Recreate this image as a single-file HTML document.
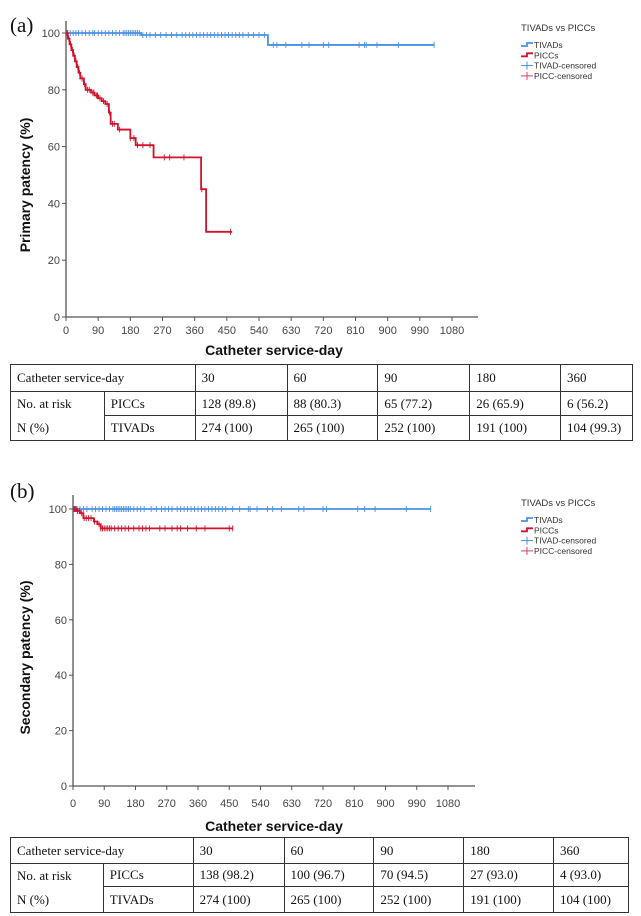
<!DOCTYPE html>
<html><head><meta charset="utf-8">
<style>
body{margin:0;background:#fff;width:641px;height:916px;overflow:hidden;position:relative;font-family:"Liberation Sans",sans-serif}
svg{position:absolute;left:0;top:0}
table{position:absolute;border-collapse:collapse;font-family:"Liberation Serif",serif;font-size:13px;color:#111}
td{border:1px solid #333;padding:0 0 0 6px;vertical-align:middle}
</style></head><body>
<svg id="chart" width="641" height="916" xmlns="http://www.w3.org/2000/svg"></svg>

<table style="left:10px;top:364px;width:623px;height:76px">
<colgroup><col style="width:94px"><col style="width:91px"><col style="width:92px"><col style="width:91px"><col style="width:92px"><col style="width:91px"><col style="width:72px"></colgroup>
<tr style="height:27px"><td colspan="2">Catheter service-day</td><td>30</td><td>60</td><td>90</td><td>180</td><td>360</td></tr>
<tr style="height:24px"><td rowspan="2" style="line-height:24px">No. at risk<br>N (%)</td><td>PICCs</td><td>128 (89.8)</td><td>88 (80.3)</td><td>65 (77.2)</td><td>26 (65.9)</td><td>6 (56.2)</td></tr>
<tr style="height:25px"><td>TIVADs</td><td>274 (100)</td><td>265 (100)</td><td>252 (100)</td><td>191 (100)</td><td>104 (99.3)</td></tr>
</table>

<table style="left:10px;top:837px;width:619px;height:75px">
<colgroup><col style="width:93px"><col style="width:90px"><col style="width:91px"><col style="width:90px"><col style="width:90px"><col style="width:90px"><col style="width:75px"></colgroup>
<tr style="height:26px"><td colspan="2">Catheter service-day</td><td>30</td><td>60</td><td>90</td><td>180</td><td>360</td></tr>
<tr style="height:23px"><td rowspan="2" style="line-height:24px">No. at risk<br>N (%)</td><td>PICCs</td><td>138 (98.2)</td><td>100 (96.7)</td><td>70 (94.5)</td><td>27 (93.0)</td><td>4 (93.0)</td></tr>
<tr style="height:26px"><td>TIVADs</td><td>274 (100)</td><td>265 (100)</td><td>252 (100)</td><td>191 (100)</td><td>104 (100)</td></tr>
</table>

<script>
const xTicks=[0,90,180,270,360,450,540,630,720,810,900,990,1080];
const yTicks=[0,20,40,60,80,100];
// Panel A
const aTivadT=[0,210,565,1030];
const aTivadS=[100,99.3,95.8,95.8];
const aPiccT=[0,5,10,15,20,25,30,35,40,50,55,70,80,90,100,110,120,125,145,180,195,245,378,392,465];
const aPiccS=[100,98,96,94,92,90,88,86,84,82,80,79,78,77,76,75,72,68,66,63,60.5,56.2,45,30,30];
const aTivadC=[5,12,20,28,35,45,55,65,75,80,90,100,110,120,130,140,150,160,165,170,175,180,185,190,195,200,205,215,225,235,250,265,280,295,310,325,335,345,355,365,375,385,395,405,415,425,435,445,455,465,475,485,495,510,525,540,555,580,590,615,660,680,720,735,820,835,840,870,930,1030];
const aPiccC=[3,8,13,18,23,28,33,38,45,52,60,65,75,78,85,88,95,105,115,122,130,135,150,180,190,200,215,235,275,290,330,380,460];
// Panel B
const bTivadT=[0,1030];
const bTivadS=[100,100];
const bPiccT=[0,10,20,30,60,70,80,460];
const bPiccS=[100,99.3,98.5,96.7,95.5,94.5,93.0,93.0];
const bTivadC=[5,12,20,30,40,55,65,75,85,95,105,115,120,125,130,135,140,145,150,155,160,165,175,185,195,205,225,240,255,265,275,285,300,310,320,330,340,350,360,370,380,390,400,410,420,430,440,460,480,505,510,530,560,575,600,650,665,720,730,820,840,870,960,1030];
const bPiccC=[3,6,9,13,18,25,32,38,45,52,62,75,80,85,90,95,100,105,110,120,130,140,150,160,175,190,200,210,220,250,265,285,300,310,330,355,380,450,460];

const svg=document.getElementById('chart');
const NS='http://www.w3.org/2000/svg';
function mk(tag,attrs,parent){const e=document.createElementNS(NS,tag);for(const k in attrs)e.setAttribute(k,attrs[k]);(parent||svg).appendChild(e);return e;}
function stepAt(T,S,t){let v=S[0];for(let i=0;i<T.length;i++){if(T[i]<=t)v=S[i];}return v;}

function panel(p){
  const g=mk('g',{});
  
  
  const X=d=>p.x0+(p.x1-p.x0)*d/1080;
  const Y=v=>p.y0-(p.y0-p.y100)*v/100;
  const lab=mk('text',{x:p.lx,y:p.ly,'font-family':'Liberation Serif, serif','font-size':'21',fill:'#111'},g);lab.textContent=p.letter;
  
  
  const ax=mk('path',{d:`M${p.x0},${p.ytop}V${p.y0}H${p.xend}`,stroke:'#555','stroke-width':1.3,fill:'none'},g);
  
  
  yTicks.forEach(v=>{
    mk('line',{x1:p.x0-4,x2:p.x0,y1:Y(v),y2:Y(v),stroke:'#555'},g);
    const t=mk('text',{x:p.x0-6,y:Y(v)+4,'text-anchor':'end','font-size':'11',fill:'#444'},g);t.textContent=v;
    
    
  });
  xTicks.forEach(v=>{
    mk('line',{x1:X(v),x2:X(v),y1:p.y0,y2:p.y0+4,stroke:'#555'},g);
    const t=mk('text',{x:X(v),y:p.y0+p.tickDy,'text-anchor':'middle','font-size':'11',fill:'#444'},g);t.textContent=v;
    
    
  });
  const yt=mk('text',{transform:`translate(${p.ytx},${(p.y0+p.y100)/2+10}) rotate(-90)`,'text-anchor':'middle','font-size':'14','font-weight':'bold',fill:'#111'},g);
  yt.textContent=p.ytitle;
  
  
  const xt=mk('text',{x:274,y:p.xty,'text-anchor':'middle','font-size':'14','font-weight':'bold',fill:'#111'},g);
  xt.textContent='Catheter service-day';
  
  
  function curve(T,S,C,col,nm){
    let d=`M${X(T[0])},${Y(S[0])}`;
    for(let i=1;i<T.length;i++){d+=`H${X(T[i])}V${Y(S[i])}`;}
    const l=mk('path',{d:d,stroke:col,'stroke-width':1.8,fill:'none'},g);
    
    
    C.forEach(c=>{
      const yy=Y(stepAt(T,S,c));
      const m=mk('line',{x1:X(c),x2:X(c),y1:yy-3,y2:yy+3,stroke:col,'stroke-width':0.9},g);
      
      
    });
  }
  curve(p.tT,p.tS,p.tC,'#4a90e2','tivad');
  curve(p.pT,p.pS,p.pC,'#d0122c','picc');
  const lg=mk('g',{'font-size':'8.5',fill:'#333'},g);
  
  
  const lt=mk('text',{x:521,y:p.legY,'font-size':'9.5'},lg);lt.textContent='TIVADs vs PICCs';
  const items=[['TIVADs','#4a90e2',0],['PICCs','#d0122c',0],['TIVAD-censored','#4a90e2',1],['PICC-censored','#e0406a',1]];
  items.forEach((it,i)=>{
    const yy=p.legY+14+i*10.3;
    if(it[2]){mk('line',{x1:521,x2:533,y1:yy,y2:yy,stroke:it[1]},lg);mk('line',{x1:527,x2:527,y1:yy-4,y2:yy+4,stroke:it[1]},lg);}
    else mk('path',{d:`M521,${yy+1}H527V${yy-2}H533`,stroke:it[1],'stroke-width':1.8,fill:'none'},lg);
    const t=mk('text',{x:534,y:yy+3},lg);t.textContent=it[0];
    
    
  });
}
panel({name:'chart-a',letter:'(a)',lx:10,ly:32,x0:66,x1:452,xend:478,y0:317,y100:33,ytop:21,ytx:30,xty:355,tickDy:17,ytitle:'Primary patency (%)',legY:31,
  tT:aTivadT,tS:aTivadS,tC:aTivadC,pT:aPiccT,pS:aPiccS,pC:aPiccC});
panel({name:'chart-b',letter:'(b)',lx:10,ly:498,x0:73,x1:448,xend:475,y0:786,y100:509,ytop:495,ytx:30,xty:831,tickDy:21,ytitle:'Secondary patency (%)',legY:506,
  tT:bTivadT,tS:bTivadS,tC:bTivadC,pT:bPiccT,pS:bPiccS,pC:bPiccC});
</script>
</body></html>
